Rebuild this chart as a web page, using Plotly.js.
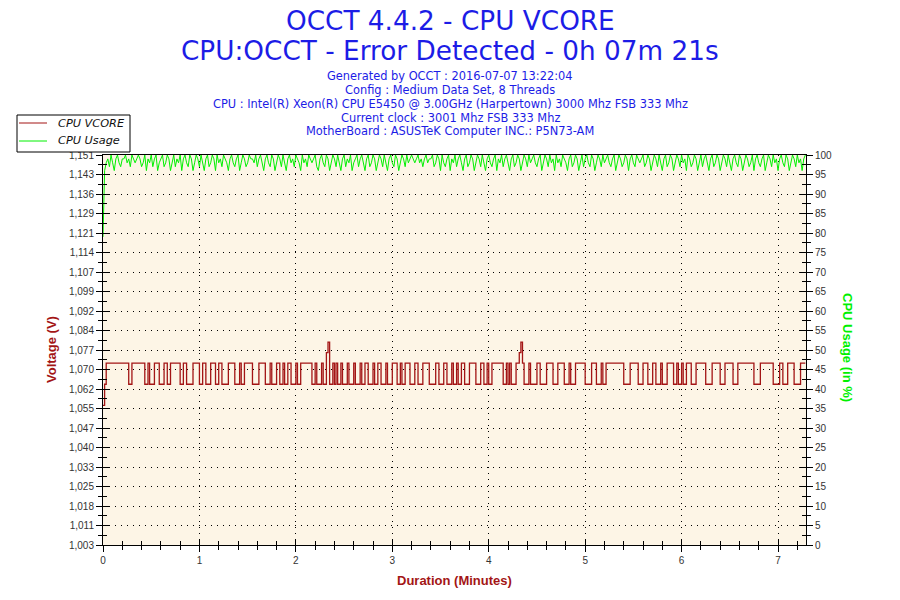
<!DOCTYPE html>
<html>
<head>
<meta charset="utf-8">
<script src="https://cdn.plot.ly/plotly-3.0.1.min.js"></script>
<style>
html,body{margin:0;padding:0;background:#fff;}
#chart{width:900px;height:600px;}
</style>
</head>
<body>
<div id="chart"></div>
<script>
// ---- data ----
var sampleSeconds = 1;
var vcore = [
1.056,1.064,1.072,1.072,1.072,1.072,1.072,1.072,1.072,1.072,1.072,1.072,1.072,1.072,1.072,1.072,1.064,1.064,1.072,1.072,
1.072,1.072,1.072,1.072,1.072,1.072,1.064,1.064,1.072,1.064,1.064,1.064,1.072,1.072,1.072,1.064,1.064,1.064,1.072,1.072,
1.064,1.064,1.072,1.072,1.072,1.072,1.072,1.072,1.064,1.064,1.072,1.072,1.064,1.064,1.064,1.064,1.072,1.072,1.072,1.072,
1.064,1.064,1.072,1.072,1.064,1.064,1.064,1.072,1.072,1.072,1.064,1.064,1.072,1.072,1.064,1.064,1.064,1.064,1.072,1.072,
1.072,1.072,1.064,1.064,1.064,1.072,1.064,1.064,1.072,1.072,1.072,1.072,1.072,1.064,1.064,1.064,1.064,1.072,1.072,1.072,
1.072,1.064,1.064,1.064,1.072,1.064,1.064,1.064,1.072,1.072,1.064,1.064,1.072,1.064,1.064,1.072,1.072,1.064,1.064,1.064,
1.072,1.064,1.064,1.072,1.072,1.072,1.072,1.072,1.072,1.072,1.064,1.064,1.072,1.064,1.064,1.064,1.072,1.064,1.064,1.076,
1.080,1.064,1.064,1.072,1.064,1.072,1.064,1.064,1.072,1.064,1.064,1.064,1.072,1.064,1.064,1.064,1.072,1.064,1.064,1.064,
1.072,1.064,1.064,1.072,1.072,1.064,1.064,1.064,1.072,1.064,1.064,1.072,1.072,1.064,1.064,1.064,1.072,1.064,1.064,1.064,
1.072,1.072,1.072,1.064,1.064,1.072,1.064,1.064,1.072,1.072,1.072,1.064,1.064,1.064,1.072,1.072,1.064,1.064,1.064,1.072,
1.072,1.072,1.072,1.064,1.064,1.064,1.064,1.072,1.072,1.064,1.064,1.064,1.072,1.072,1.064,1.064,1.064,1.072,1.064,1.064,
1.072,1.064,1.064,1.072,1.072,1.064,1.064,1.064,1.072,1.072,1.072,1.072,1.064,1.064,1.064,1.072,1.072,1.064,1.064,1.072,
1.064,1.064,1.072,1.072,1.072,1.072,1.072,1.072,1.072,1.064,1.064,1.072,1.064,1.072,1.064,1.064,1.064,1.072,1.072,1.076,
1.080,1.072,1.064,1.064,1.064,1.072,1.064,1.064,1.064,1.064,1.072,1.072,1.064,1.064,1.064,1.064,1.072,1.072,1.072,1.072,
1.064,1.064,1.064,1.072,1.072,1.072,1.072,1.064,1.064,1.064,1.072,1.064,1.064,1.064,1.072,1.072,1.072,1.072,1.072,1.072,
1.064,1.064,1.064,1.064,1.072,1.072,1.072,1.064,1.064,1.064,1.072,1.064,1.064,1.072,1.072,1.072,1.072,1.072,1.072,1.072,
1.072,1.072,1.072,1.072,1.064,1.064,1.064,1.064,1.072,1.072,1.072,1.072,1.072,1.064,1.064,1.064,1.072,1.072,1.072,1.064,
1.064,1.064,1.072,1.072,1.064,1.064,1.064,1.072,1.064,1.064,1.064,1.072,1.072,1.072,1.072,1.064,1.064,1.072,1.064,1.064,
1.072,1.064,1.064,1.072,1.072,1.072,1.064,1.064,1.064,1.072,1.072,1.072,1.072,1.072,1.072,1.064,1.064,1.064,1.064,1.072,
1.072,1.072,1.072,1.072,1.064,1.064,1.064,1.072,1.072,1.072,1.072,1.072,1.064,1.064,1.064,1.072,1.072,1.072,1.072,1.072,
1.072,1.072,1.072,1.072,1.072,1.064,1.064,1.064,1.064,1.072,1.072,1.072,1.072,1.072,1.072,1.072,1.072,1.064,1.064,1.064,
1.064,1.072,1.072,1.064,1.064,1.064,1.072,1.072,1.072,1.072,1.064,1.064,1.064,1.064,1.072,1.072,1.072,1.072
];
var cpuUsage = [
79,96,98,99,97,100,98,96,99,100,98,97,99,99,100,98,99,97,100,99,
98,99,100,99,97,98,100,96,99,98,100,97,99,100,96,98,99,100,97,98,
100,99,96,98,100,97,99,98,100,96,99,100,98,97,100,99,96,98,100,99,
97,100,98,96,99,100,97,98,100,99,96,100,98,99,97,100,99,98,96,99,
100,98,97,99,100,96,98,100,99,97,98,100,99,99,98,100,97,99,100,98,
96,99,100,98,97,100,99,96,98,100,99,97,100,98,96,99,100,98,99,97,
100,99,98,96,100,98,99,97,100,99,98,99,100,97,96,99,100,98,97,100,
99,96,98,100,99,97,100,98,96,99,100,97,99,98,100,96,98,99,100,97,
99,100,98,96,99,100,97,98,100,99,96,98,100,99,97,100,98,96,99,100,
98,97,100,99,96,98,100,99,97,100,98,99,100,99,98,99,100,98,99,97,
99,100,98,99,99,100,97,98,100,99,96,100,98,97,99,100,96,99,98,100,
97,99,100,98,96,99,100,97,98,100,99,96,98,100,99,97,100,98,96,99,
100,98,97,99,100,96,99,98,100,97,99,100,98,96,99,100,97,98,100,99,
96,98,100,99,97,100,98,99,100,98,97,99,100,96,98,100,99,97,100,98,
99,96,100,98,99,97,100,99,98,96,99,100,97,98,100,99,96,98,100,97,
99,100,98,97,100,99,96,98,100,99,97,100,98,99,100,98,97,99,100,96,
98,100,99,97,98,100,99,96,99,100,98,97,100,99,98,99,100,97,98,100,
99,96,98,100,99,97,100,98,96,99,100,97,98,100,99,96,98,100,99,97,
100,98,99,96,100,99,97,98,100,99,96,98,100,97,99,100,98,96,99,100,
97,98,100,99,96,98,100,99,97,100,98,96,99,100,98,97,100,99,96,98,
100,99,97,98,100,96,99,100,98,97,99,100,96,98,100,99,97,100,98,99,
96,99,100,98,97,100,99,96,98,100,99,97,100,98,99,96,99,100
];
var voltTickLabels = ["1,003","1,011","1,018","1,025","1,033","1,040","1,047","1,055","1,062","1,070","1,077",
  "1,084","1,092","1,099","1,107","1,114","1,121","1,129","1,136","1,143","1,151"];
var voltRange = [1.003, 1.151];
var usageRange = [0, 100];
var minutesRange = [0, 7.29];
var seriesNames = ["CPU VCORE", "CPU Usage"];
var titleLines = ["OCCT 4.4.2 - CPU VCORE", "CPU:OCCT - Error Detected - 0h 07m 21s"];
var infoLines = [
  "Generated by OCCT : 2016-07-07 13:22:04",
  "Config : Medium Data Set, 8 Threads",
  "CPU : Intel(R) Xeon(R) CPU E5450 @ 3.00GHz (Harpertown) 3000 Mhz FSB 333 Mhz",
  "Current clock : 3001 Mhz FSB 333 Mhz",
  "MotherBoard : ASUSTeK Computer INC.: P5N73-AM"
];

// ---- build ----
function minutes(arr){ return arr.map(function(_, i){ return i * sampleSeconds / 60; }); }
var nT = voltTickLabels.length;
var vStep = (voltRange[1] - voltRange[0]) / (nT - 1);
var vTickVals = voltTickLabels.map(function(_, i){ return voltRange[0] + i * vStep; });
var vMinorVals = vTickVals.slice(0, -1).map(function(v){ return v + vStep / 2; });

var W = 900, H = 600, L = 103, R = 94, T = 155, B = 55;
var pw = W - L - R, ph = H - T - B;
function px(x){ return (x - L) / pw; }
function py(y){ return (H - B - y) / ph; }

var red = "#a31515", green = "#00f000", blue = "#1c1ce6";
var tickFont = {family: "Liberation Sans, Arial, sans-serif", size: 10, color: "#333"};
var verdana = "DejaVu Sans, Verdana, sans-serif";
var arial = "Liberation Sans, Arial, sans-serif";

var traces = [
  {x: minutes(vcore), y: vcore, type: "scatter", mode: "lines", name: seriesNames[0],
   line: {color: red, width: 1.3, shape: "hv"}, xaxis: "x", yaxis: "y"},
  {x: minutes(cpuUsage), y: cpuUsage, type: "scatter", mode: "lines", name: seriesNames[1],
   line: {color: green, width: 1}, xaxis: "x", yaxis: "y2"},
  {x: [null], y: [null], xaxis: "x2", yaxis: "y3", showlegend: false, hoverinfo: "skip", mode: "lines"},
  {x: [null], y: [null], xaxis: "x2", yaxis: "y4", showlegend: false, hoverinfo: "skip", mode: "lines"}
];

var annotations = [];
annotations.push({text: titleLines[0], x: px(450), y: py(21), font: {family: verdana, size: 26.3, color: blue}});
annotations.push({text: titleLines[1], x: px(450), y: py(51), font: {family: verdana, size: 26.3, color: blue}});
var infoY = [76, 90, 104, 118, 131];
infoLines.forEach(function(t, i){
  annotations.push({text: t, x: px(450), y: py(infoY[i]),
    font: {family: verdana, size: 11.4, color: blue}});
});
annotations.push({text: "<b>Voltage (V)</b>", x: px(51), y: py(350), textangle: -90,
  font: {family: arial, size: 13, color: red}});
annotations.push({text: "<b>CPU Usage (in %)</b>", x: px(848), y: py(348), textangle: 90,
  font: {family: arial, size: 13, color: green}});
annotations.push({text: "<b>Duration (Minutes)</b>", x: px(454), y: py(580),
  font: {family: arial, size: 13, color: red}});
annotations.forEach(function(a){ a.xanchor = "center"; });
// legend labels
var legendRowY = [123, 141];
seriesNames.forEach(function(n, i){
  annotations.push({text: "<i>" + n + "</i>", x: px(56), y: py(legendRowY[i]), xanchor: "left",
    font: {family: verdana, size: 11.3, color: "#111"}});
});
annotations.forEach(function(a){
  a.xref = "paper"; a.yref = "paper"; a.yanchor = "middle"; a.showarrow = false;
});

var shapes = [
  {type: "rect", xref: "paper", yref: "paper", x0: px(17), x1: px(130), y0: py(115), y1: py(152),
   fillcolor: "#ffffff", line: {color: "#000", width: 1}, layer: "above"}
];
[red, green].forEach(function(c, i){
  shapes.push({type: "line", xref: "paper", yref: "paper", x0: px(19), x1: px(47),
    y0: py(legendRowY[i]), y1: py(legendRowY[i]), line: {color: c, width: 1}, layer: "above"});
});

var layout = {
  width: W, height: H,
  margin: {l: L, r: R, t: T, b: B},
  paper_bgcolor: "#ffffff",
  plot_bgcolor: "#fdf5e6",
  showlegend: false,
  xaxis: {range: minutesRange, autorange: false, dtick: 1, tick0: 0,
    ticks: "outside", ticklen: 6, tickcolor: "#000", tickwidth: 1,
    showline: true, linecolor: "#000", linewidth: 1, mirror: true,
    showgrid: true, gridcolor: "#000", griddash: "1px,5px", gridwidth: 1,
    zeroline: false, tickfont: tickFont,
    minor: {dtick: 0.2, ticks: "outside", ticklen: 4, tickcolor: "#000", showgrid: false}},
  xaxis2: {range: minutesRange, autorange: false, overlaying: "x", anchor: "y", side: "bottom",
    dtick: 1, tick0: 0, ticks: "inside", ticklen: 6, tickcolor: "#000",
    showticklabels: false, showgrid: false, zeroline: false, showline: false,
    minor: {dtick: 0.2, ticks: "inside", ticklen: 4, tickcolor: "#000", showgrid: false}},
  yaxis: {range: voltRange, autorange: false, tickmode: "array", tickvals: vTickVals, ticktext: voltTickLabels,
    ticks: "outside", ticklen: 6, tickcolor: "#000",
    showline: true, linecolor: "#000", linewidth: 1, mirror: true,
    showgrid: true, gridcolor: "#000", griddash: "1px,5px", gridwidth: 1,
    zeroline: false, tickfont: tickFont,
    minor: {tickvals: vMinorVals, ticks: "outside", ticklen: 4, tickcolor: "#000", showgrid: false}},
  yaxis3: {range: voltRange, autorange: false, overlaying: "y", anchor: "x", side: "left",
    tickmode: "array", tickvals: vTickVals, ticks: "inside", ticklen: 6, tickcolor: "#000",
    showticklabels: false, showgrid: false, zeroline: false, showline: false,
    minor: {tickvals: vMinorVals, ticks: "inside", ticklen: 4, tickcolor: "#000", showgrid: false}},
  yaxis2: {range: usageRange, autorange: false, overlaying: "y", anchor: "x", side: "right",
    dtick: 5, tick0: 0, ticks: "outside", ticklen: 6, tickcolor: "#000",
    showline: false, showgrid: false, zeroline: false, tickfont: tickFont,
    minor: {dtick: 2.5, ticks: "outside", ticklen: 4, tickcolor: "#000", showgrid: false}},
  yaxis4: {range: usageRange, autorange: false, overlaying: "y", anchor: "x", side: "right",
    dtick: 5, tick0: 0, ticks: "inside", ticklen: 6, tickcolor: "#000",
    showticklabels: false, showgrid: false, zeroline: false, showline: false,
    minor: {dtick: 2.5, ticks: "inside", ticklen: 4, tickcolor: "#000", showgrid: false}},
  shapes: shapes,
  annotations: annotations
};

Plotly.newPlot("chart", traces, layout, {displayModeBar: false, staticPlot: true});
</script>
</body>
</html>
